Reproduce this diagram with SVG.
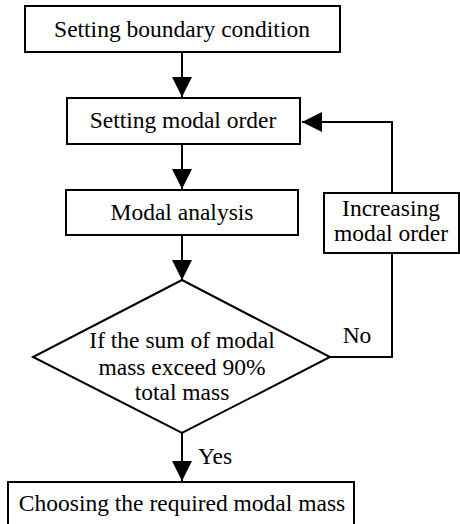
<svg xmlns="http://www.w3.org/2000/svg" width="460" height="524" viewBox="0 0 460 524">
<style>
.box{fill:#fff;stroke:#000;stroke-width:2}
.ln{fill:none;stroke:#000;stroke-width:2}
text{font-family:"Liberation Serif","Times New Roman",serif;font-size:23.5px;fill:#000;text-anchor:middle}
</style>
<defs>
<marker id="ah" markerUnits="userSpaceOnUse" markerWidth="20" markerHeight="20" refX="20" refY="10" orient="auto">
<path d="M0,0 L20,10 L0,20 z" fill="#000"/>
</marker>
</defs>
<rect width="460" height="524" fill="#fff"/>
<g id="connectors">
<path class="ln" d="M182,52 V97" marker-end="url(#ah)"/>
<path class="ln" d="M182,144 V189" marker-end="url(#ah)"/>
<path class="ln" d="M182,235 V280" marker-end="url(#ah)"/>
<path class="ln" d="M182,433 V481" marker-end="url(#ah)"/>
<path class="ln" d="M330,357 H392 V253"/>
<path class="ln" d="M392,193 V122 H302" marker-end="url(#ah)"/>
<text x="357" y="343">No</text>
<text x="215" y="464">Yes</text>
</g>
<g id="n1">
<rect class="box" x="25" y="6" width="315" height="46"/>
<text x="182" y="37">Setting boundary condition</text>
</g>
<g id="n2">
<rect class="box" x="67" y="98" width="233" height="46"/>
<text x="183" y="128">Setting modal order</text>
</g>
<g id="n3">
<rect class="box" x="66" y="190" width="232" height="45"/>
<text x="182" y="220">Modal analysis</text>
</g>
<g id="n4">
<rect class="box" x="324" y="193" width="135" height="60"/>
<text x="391" y="216">Increasing</text>
<text x="391" y="241">modal order</text>
</g>
<g id="n5">
<polygon class="box" points="182,280 330,357 182,433 33,357"/>
<text x="182" y="348">If the sum of modal</text>
<text x="182" y="375">mass exceed 90%</text>
<text x="182" y="400">total mass</text>
</g>
<g id="n6">
<rect class="box" x="8" y="482" width="346" height="50"/>
<text x="182" y="511">Choosing the required modal mass</text>
</g>
</svg>
